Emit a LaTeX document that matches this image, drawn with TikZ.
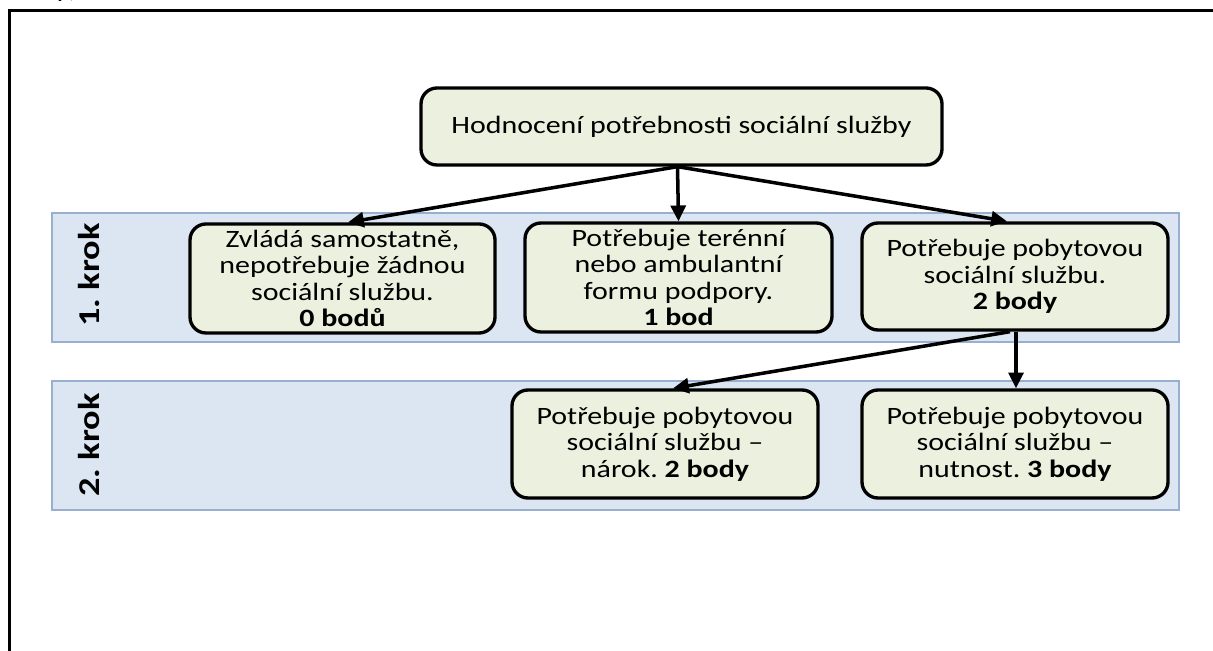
\documentclass[tikz,border=0pt]{standalone}
\usepackage{fontspec}
\setmainfont[FakeStretch=1.2]{Carlito}
\usetikzlibrary{arrows.meta}
\definecolor{boxgreen}{HTML}{EBF1DE}
\definecolor{bandblue}{HTML}{DCE6F2}
\definecolor{bandline}{HTML}{98AFD0}
\tikzset{
  stepband/.style={draw=bandline, line width=0.9pt, fill=bandblue},
  stepbox/.style={draw=black, line width=1.9pt, fill=boxgreen, rounded corners=0.32cm,
    align=center, inner sep=0pt, font=\fontsize{14.2}{15.1}\selectfont},
  steplabel/.style={rotate=90, font=\fontsize{17.2}{18}\selectfont\bfseries},
  flow/.style={line width=2pt, -{Triangle[length=9pt,width=8.5pt]}},
}
\frenchspacing
\begin{document}
\begin{tikzpicture}[x=0.02cm, y=-0.02cm]
\useasboundingbox (0,0) rectangle (1213,651);
% outer frame (top and left edges)
\draw[line width=1.3pt] (9.5,651) -- (9.5,10.5) -- (1213,10.5);
\node[font=\fontsize{14.2}{15}\selectfont, anchor=base west, inner sep=0pt] (cut) at (55,-2) {y)};

% step bands
\node[stepband, minimum width=1127*0.02cm, minimum height=129*0.02cm, inner sep=0pt] (band1) at (615.5,277.5) {};
\node[stepband, minimum width=1127*0.02cm, minimum height=129*0.02cm, inner sep=0pt] (band2) at (615.5,445.5) {};
\node[steplabel] (lab1) at (89,275) {1. krok};
\node[steplabel] (lab2) at (89,445) {2. krok};

% boxes
\node[stepbox, minimum width=521*0.02cm, minimum height=77*0.02cm] (head) at (681.5,126.5)
  {Hodnocení potřebnosti sociální služby};
\node[stepbox, minimum width=305*0.02cm, minimum height=109*0.02cm] (b1) at (342.5,278.5)
  {Zvládá samostatně,\\nepotřebuje žádnou\\sociální službu.\\\textbf{0 bodů}};
\node[stepbox, minimum width=307*0.02cm, minimum height=109*0.02cm] (b2) at (678.5,277.5)
  {Potřebuje terénní\\nebo ambulantní\\formu podpory.\\\textbf{1 bod}};
\node[stepbox, minimum width=306*0.02cm, minimum height=107*0.02cm] (b3) at (1015,276.5)
  {Potřebuje pobytovou\\sociální službu.\\\textbf{2 body}};
\node[stepbox, minimum width=306*0.02cm, minimum height=108*0.02cm] (b4) at (665,444)
  {Potřebuje pobytovou\\sociální službu –\\nárok. \textbf{2 body}};
\node[stepbox, minimum width=306*0.02cm, minimum height=108*0.02cm] (b5) at (1015,444)
  {Potřebuje pobytovou\\sociální službu –\\nutnost. \textbf{3 body}};

% connectors
\draw[flow] ([xshift=-4*0.02cm]head.south) -- ([xshift=5.5*0.02cm]b1.north);
\draw[flow] ([xshift=-4*0.02cm]head.south) -- (b2.north);
\draw[flow] ([xshift=-4*0.02cm]head.south) -- ([xshift=-8*0.02cm]b3.north);
\draw[flow] ([xshift=1*0.02cm]b3.south) -- ([xshift=1*0.02cm]b5.north);
\draw[flow] ([xshift=-5*0.02cm]b3.south) -- ([xshift=8*0.02cm]b4.north);
\end{tikzpicture}
\end{document}
